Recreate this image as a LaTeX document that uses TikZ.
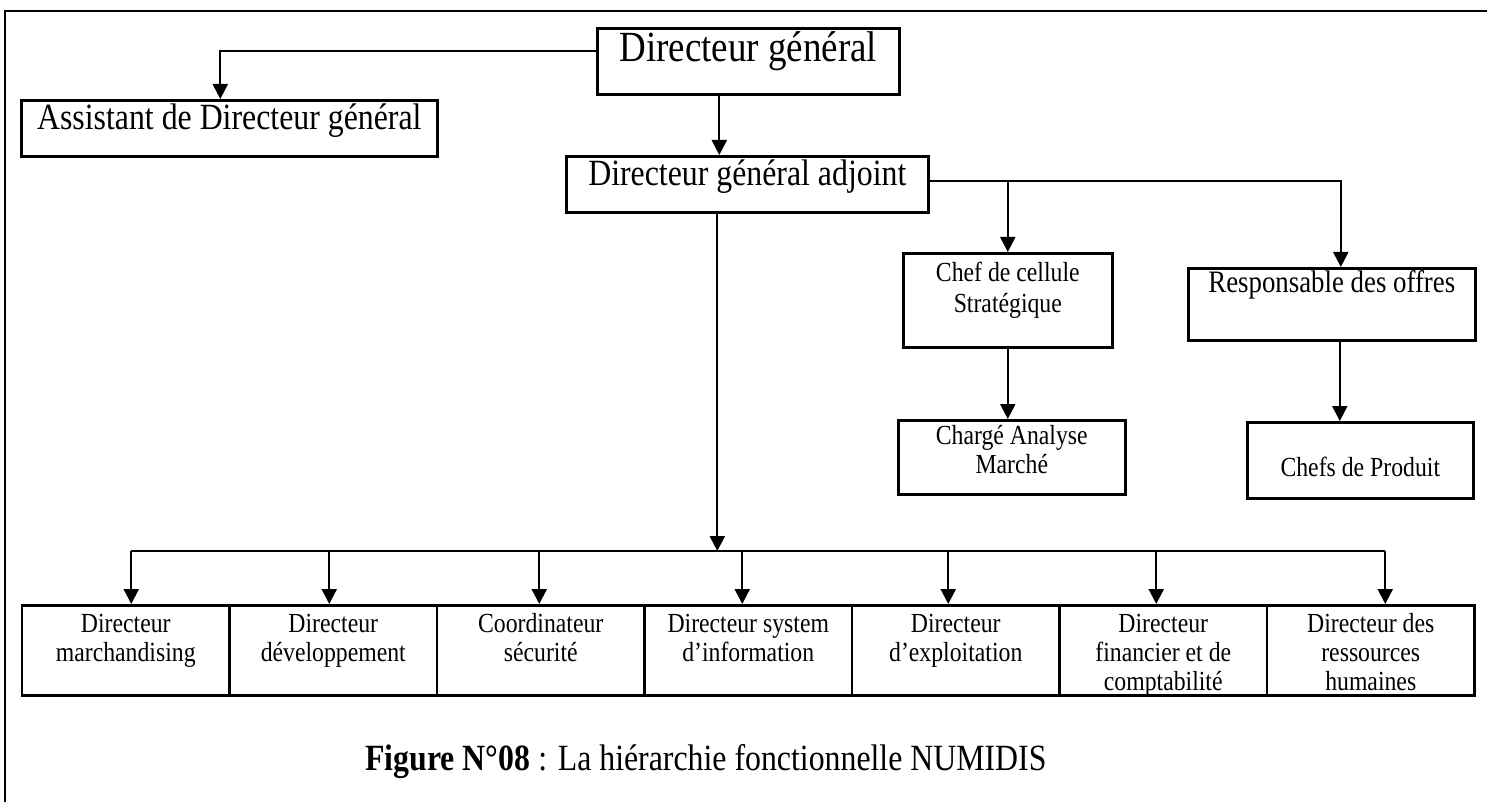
\documentclass[tikz,border=0pt]{standalone}
\usepackage{fontspec}
\setmainfont{Liberation Serif}[FakeStretch=0.86]
\usetikzlibrary{arrows.meta}
\newdimen\orgpx
\orgpx=0.5pt
\newcommand{\orgBig}{\fontsize{21.5}{25}\selectfont}
\newcommand{\orgMid}{\fontsize{18.5}{22}\selectfont}
\newcommand{\orgOffer}{\fontsize{15.6}{18}\selectfont}
\newcommand{\orgSmall}{\fontsize{13.8}{14.5}\selectfont}
\tikzset{
  org box/.style={draw=black, line width=1.3pt, inner sep=0pt, anchor=north west},
  org line/.style={line width=1.1pt},
  org link/.style={org line, -{Triangle[length=7.5pt,width=7.5pt]}},
  org frame/.style={line width=1.4pt},
  org caption/.style={
    font=\orgMid,
    anchor=base west,
    inner sep=0pt
  }
}
\newcommand{\orgBox}[7][\orgSmall]{%
  \node[org box] (#2) at (#3)
    {\parbox[t][#5\orgpx][t]{#4\orgpx}{#1\centering\rule{0pt}{#6\orgpx}#7}};%
}

\begin{document}
\begin{tikzpicture}[x=0.5pt,y=-0.5pt]
  \useasboundingbox (0,0) rectangle (1487,802);
  \draw[org frame] (1487,11) -- (5,11) -- (5,802);

  \orgBox[\orgBig]{dg}{596,27}{302}{66}{33}{Directeur général}
  \orgBox[\orgMid]{asst}{20,99}{416}{56}{29}{Assistant de Directeur général}
  \orgBox[\orgMid]{adj}{565,155}{362}{56}{29}{Directeur général adjoint}
  \orgBox{chef}{902,252}{209}{94}{28}{Chef de cellule\\[1pt]Stratégique}
  \orgBox[\orgOffer]{resp}{1187,267}{287}{72}{24}{Responsable des offres}
  \orgBox{charge}{897,419}{227}{74}{24}{Chargé Analyse\\Marché}
  \orgBox{chefs}{1246,421}{226}{76}{54}{Chefs de Produit}

  \draw[org link] ([yshift=5pt]dg.west) -| ([xshift=-4.5pt]asst.north);
  \draw[org link] ([xshift=-14.5pt]dg.south) -- ([xshift=-14.5pt]dg.south |- adj.north);

  \coordinate (adjR) at ([yshift=1.5pt]adj.east);
  \draw[org link] (adjR) -| ([xshift=4.5pt]resp.north);
  \draw[org link] (adjR -| chef.north) -- (chef.north);
  \draw[org link] (chef.south) -- (chef.south |- charge.north);
  \draw[org link] ([xshift=4pt]resp.south) -- ([xshift=4pt]resp.south |- chefs.north);

  % directions
  \coordinate (bus) at (0,551);
  \foreach \name/\i/\dx/\txt in {
      dmar/0/2.75/{Directeur\\marchandising},
      ddev/1/-2/{Directeur\\développement},
      csec/2/-0.75/{Coordinateur\\sécurité},
      dsi/3/-3/{Directeur system\\d’information},
      dexp/4/-3.75/{Directeur\\d’exploitation},
      dfin/5/-3.5/{Directeur\\financier et de\\comptabilité},
      drh/6/7.25/{Directeur des\\ressources\\humaines}} {
    \pgfmathsetmacro\bx{20.7+207.5*\i}
    \orgBox{\name}{\bx,604}{207.5}{90}{27}{\txt}
    \coordinate (t-\name) at ([xshift=\dx pt]\name.north);
    \draw[org link] (bus -| t-\name) -- (t-\name);
  }
  \draw[org line] (bus -| t-dmar) -- (bus -| t-drh);
  \draw[org link] ([xshift=-15pt]adj.south) -- ([xshift=-15pt]adj.south |- bus);

  \node[org caption] (cap) at (365,770)
    {\textbf{Figure N°08} : La hiérarchie fonctionnelle NUMIDIS};
\end{tikzpicture}
\end{document}
